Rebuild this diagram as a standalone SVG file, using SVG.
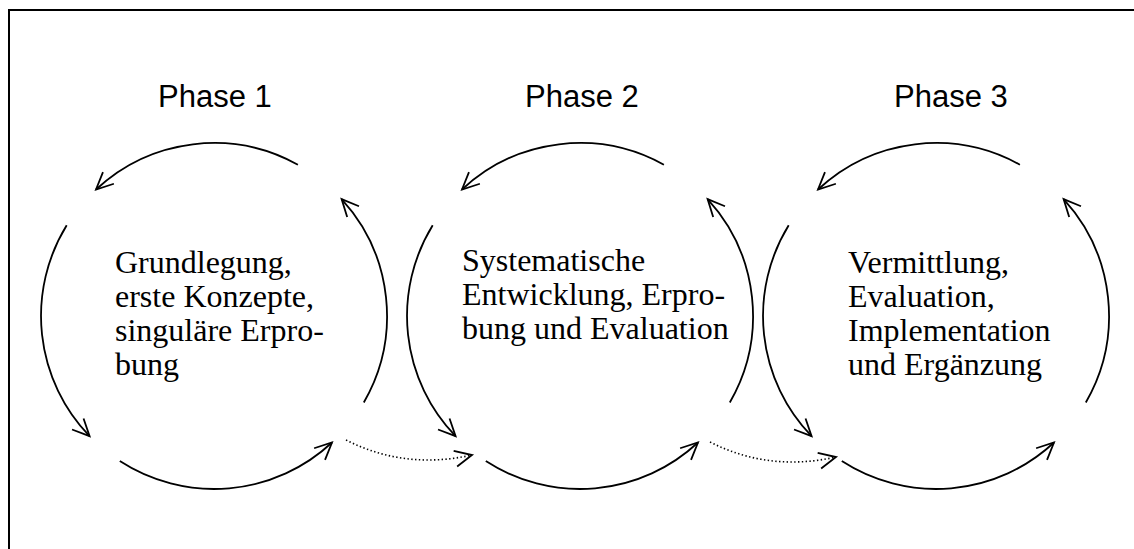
<svg xmlns="http://www.w3.org/2000/svg" width="1134" height="549" viewBox="0 0 1134 549">
<style>
.arc{fill:none;stroke:#000;stroke-width:1.8}
.dot{fill:none;stroke:#000;stroke-width:1.6;stroke-dasharray:1.4 2.4}
.ph{font-family:"Liberation Sans",Arial,sans-serif;font-size:31px;fill:#000;text-anchor:middle}
.tx{font-family:"Liberation Serif","Times New Roman",serif;font-size:32px;fill:#000}
</style>
<defs>
<marker id="ah" markerUnits="userSpaceOnUse" orient="auto" refX="0" refY="0" markerWidth="40" markerHeight="40" viewBox="-20 -20 40 40" overflow="visible">
<path d="M-17,-8 L0,0 L-17,8" fill="none" stroke="#000" stroke-width="1.8"/>
</marker>
</defs>
<rect x="9" y="10" width="1140" height="560" fill="none" stroke="#000" stroke-width="2"/>
<g id="phase1">
<text class="ph" x="215" y="107">Phase 1</text>
<text class="tx" x="115" y="273">Grundlegung,</text>
<text class="tx" x="115" y="307">erste Konzepte,</text>
<text class="tx" x="115" y="341">singuläre Erpro-</text>
<text class="tx" x="115" y="375">bung</text>
</g>
<g id="phase2">
<text class="ph" x="582" y="107">Phase 2</text>
<text class="tx" x="462" y="271">Systematische</text>
<text class="tx" x="462" y="305">Entwicklung, Erpro-</text>
<text class="tx" x="462" y="339">bung und Evaluation</text>
</g>
<g id="phase3">
<text class="ph" x="951" y="107">Phase 3</text>
<text class="tx" x="848" y="273">Vermittlung,</text>
<text class="tx" x="848" y="307">Evaluation,</text>
<text class="tx" x="848" y="341">Implementation</text>
<text class="tx" x="848" y="375">und Ergänzung</text>
</g>
<g id="connectors">
<g id="cycle1">
<path class="arc" marker-end="url(#ah)" d="M297.9,164.7 A173,173 0 0 0 96,189.5"/>
<path class="arc" marker-end="url(#ah)" d="M66.7,225.3 A173,173 0 0 0 89.6,436.2"/>
<path class="arc" marker-end="url(#ah)" d="M119.8,461.1 A173,173 0 0 0 332,442.5"/>
<path class="arc" marker-end="url(#ah)" d="M363.8,402.5 A173,173 0 0 0 341.6,199.1"/>
</g>
<g id="cycle2" transform="translate(366,0)">
<path class="arc" marker-end="url(#ah)" d="M297.9,164.7 A173,173 0 0 0 96,189.5"/>
<path class="arc" marker-end="url(#ah)" d="M66.7,225.3 A173,173 0 0 0 89.6,436.2"/>
<path class="arc" marker-end="url(#ah)" d="M119.8,461.1 A173,173 0 0 0 332,442.5"/>
<path class="arc" marker-end="url(#ah)" d="M363.8,402.5 A173,173 0 0 0 341.6,199.1"/>
</g>
<g id="cycle3" transform="translate(722,0)">
<path class="arc" marker-end="url(#ah)" d="M297.9,164.7 A173,173 0 0 0 96,189.5"/>
<path class="arc" marker-end="url(#ah)" d="M66.7,225.3 A173,173 0 0 0 89.6,436.2"/>
<path class="arc" marker-end="url(#ah)" d="M119.8,461.1 A173,173 0 0 0 332,442.5"/>
<path class="arc" marker-end="url(#ah)" d="M363.8,402.5 A173,173 0 0 0 341.6,199.1"/>
</g>
<path class="dot" marker-end="url(#ah)" d="M346,440 Q405,470 472,455"/>
<path class="dot" marker-end="url(#ah)" d="M710,442 Q769,472 836,457"/>
</g>
</svg>
